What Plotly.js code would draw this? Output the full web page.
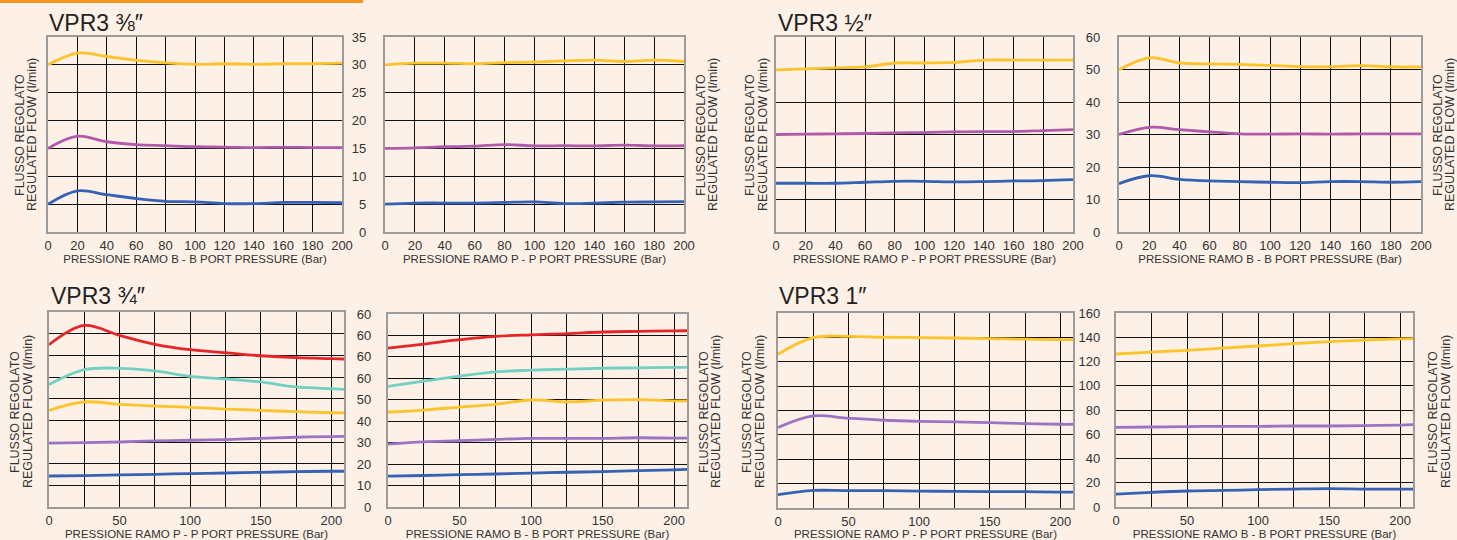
<!DOCTYPE html>
<html><head><meta charset="utf-8">
<script src="https://cdn.plot.ly/plotly-3.0.1.min.js"></script>
<style>html,body{margin:0;padding:0;background:#fdf0e6;}#chart{width:1457px;height:540px;}</style>
</head><body><div id="chart"></div>
<script>
// ---------- DATA ----------
const xTop = [0, 20, 40, 60, 80, 100, 120, 140, 160, 180, 200];
const xBottom = [0, 25, 50, 75, 100, 125, 150, 175, 200, 209];

const xTickTop = [0, 20, 40, 60, 80, 100, 120, 140, 160, 180, 200];
const xTickTopText = ['0','20','40','60','80','100','120','140','160','180','200'];
const xTickBottom = [0, 25, 50, 75, 100, 125, 150, 175, 200];
const xTickBottomText = ['0','','50','','100','','150','','200'];

const yTick38 = [0, 5, 10, 15, 20, 25, 30, 35];
const yTick38Text = ['0','5','10','15','20','25','30','35'];
const yTick12 = [0, 10, 20, 30, 40, 50, 60];
const yTick12Text = ['0','10','20','30','40','50','60'];
const yTick34 = [0, 10, 20, 30, 40, 50, 60, 70, 80, 90];
const yTick34Text = ['0','10','20','30','40','50','60','60','60','60'];
const yTick1 = [0, 20, 40, 60, 80, 100, 120, 140, 160];
const yTick1Text = ['0','20','40','60','80','100','120','140','160'];

// VPR3 3/8" - B port
const v38B_yellow = [30.0, 32.1, 31.5, 30.8, 30.35, 30.1, 30.2, 30.1, 30.2, 30.2, 30.3];
const v38B_purple = [15.0, 17.2, 16.2, 15.7, 15.5, 15.3, 15.25, 15.15, 15.2, 15.15, 15.15];
const v38B_blue   = [5.0, 7.4, 6.7, 6.0, 5.5, 5.4, 5.1, 5.1, 5.3, 5.3, 5.25];
// VPR3 3/8" - P port
const v38P_yellow = [30.0, 30.3, 30.3, 30.2, 30.4, 30.5, 30.7, 30.85, 30.6, 30.85, 30.6];
const v38P_purple = [15.0, 15.1, 15.3, 15.4, 15.7, 15.45, 15.5, 15.45, 15.6, 15.45, 15.5];
const v38P_blue   = [5.0, 5.2, 5.2, 5.2, 5.3, 5.4, 5.1, 5.2, 5.35, 5.4, 5.45];
// VPR3 1/2" - P port
const v12P_yellow = [49.9, 50.2, 50.5, 50.8, 52.0, 52.0, 52.2, 52.9, 52.9, 52.9, 52.9];
const v12P_purple = [30.0, 30.1, 30.2, 30.3, 30.5, 30.6, 30.8, 30.9, 30.9, 31.2, 31.5];
const v12P_blue   = [15.0, 15.0, 15.0, 15.3, 15.6, 15.6, 15.4, 15.5, 15.7, 15.8, 16.1];
// VPR3 1/2" - B port
const v12B_yellow = [49.9, 53.6, 52.0, 51.7, 51.6, 51.3, 50.9, 50.8, 51.2, 50.8, 50.8];
const v12B_purple = [30.0, 32.2, 31.5, 30.8, 30.2, 30.1, 30.2, 30.1, 30.2, 30.2, 30.2];
const v12B_blue   = [14.9, 17.3, 16.2, 15.7, 15.5, 15.3, 15.2, 15.5, 15.5, 15.3, 15.5];
// VPR3 3/4" - P port
const v34P_red    = [74.9, 83.8, 79.2, 75.1, 72.6, 71.2, 69.8, 68.9, 68.5, 68.3];
const v34P_teal   = [56.5, 63.4, 64.0, 62.8, 60.3, 59.1, 57.7, 55.4, 54.6, 54.3];
const v34P_yellow = [44.6, 48.5, 47.4, 46.6, 46.0, 45.2, 44.6, 44.0, 43.5, 43.4];
const v34P_purple = [29.5, 29.7, 30.0, 30.5, 30.8, 31.1, 31.7, 32.2, 32.5, 32.6];
const v34P_blue   = [14.3, 14.5, 14.8, 15.1, 15.4, 15.7, 16.0, 16.3, 16.5, 16.5];
// VPR3 3/4" - B port
const v34B_red    = [74.1, 76.0, 78.0, 79.6, 80.3, 80.8, 81.6, 81.9, 82.1, 82.2];
const v34B_teal   = [56.2, 58.7, 61.0, 63.0, 63.8, 64.3, 64.7, 64.9, 65.1, 65.1];
const v34B_yellow = [44.3, 45.2, 46.6, 47.9, 49.9, 49.0, 49.8, 50.1, 49.5, 49.5];
const v34B_purple = [29.3, 30.4, 30.9, 31.5, 32.0, 32.0, 32.0, 32.3, 32.1, 32.1];
const v34B_blue   = [14.4, 14.7, 15.1, 15.4, 15.8, 16.2, 16.5, 17.0, 17.3, 17.5];
// VPR3 1" - P port
const v1P_yellow = [126.2, 139.8, 140.9, 140.1, 139.8, 139.5, 139.0, 138.5, 138.2, 138.2];
const v1P_purple = [66.0, 75.5, 73.6, 72.0, 71.1, 70.6, 70.0, 69.2, 68.7, 68.7];
const v1P_blue   = [10.9, 14.4, 14.2, 14.2, 13.9, 13.6, 13.4, 13.4, 13.1, 13.1];
// VPR3 1" - B port
const v1B_yellow = [126.2, 127.8, 129.2, 131.1, 132.8, 134.7, 136.4, 137.7, 138.6, 138.8];
const v1B_purple = [65.7, 66.0, 66.3, 66.5, 66.5, 66.8, 66.8, 67.1, 67.6, 67.9];
const v1B_blue   = [10.7, 12.1, 13.2, 13.7, 14.3, 14.8, 15.1, 14.8, 14.8, 14.8];

const titles = ['VPR3 <span style="font-size:23px">⅜″</span>', 'VPR3 <span style="font-size:23px">½″</span>',
                'VPR3 <span style="font-size:23px">¾″</span>', 'VPR3 1″'];
const xTitleB = 'PRESSIONE RAMO B - B PORT PRESSURE (Bar)';
const xTitleP = 'PRESSIONE RAMO P - P PORT PRESSURE (Bar)';
const yTitle1 = 'FLUSSO REGOLATO';
const yTitle2 = 'REGULATED FLOW (l/min)';

// ---------- STYLE ----------
const C = {yellow:'#fcc42a', magenta:'#b05aaa', lavender:'#9c72c2', blue:'#3662b5', red:'#e4262b', teal:'#72d0c2'};
const W = 1457, H = 540;
const FONT = 'Liberation Sans, Arial, sans-serif';
const TXT = '#333333';

const panels = [
  {px:[48,342], py:[37,232], x:xTop, xr:[0,200], xt:xTickTop, xtt:xTickTopText, yr:[0,35], yt:yTick38, ytt:yTick38Text, labels:false, xtitle:xTitleB,
   series:[[v38B_yellow,C.yellow],[v38B_purple,C.magenta],[v38B_blue,C.blue]]},
  {px:[385,684], py:[37,232], x:xTop, xr:[0,200], xt:xTickTop, xtt:xTickTopText, yr:[0,35], yt:yTick38, ytt:yTick38Text, labels:true, stand:14, xtitle:xTitleP,
   series:[[v38P_yellow,C.yellow],[v38P_purple,C.magenta],[v38P_blue,C.blue]]},
  {px:[776,1073], py:[37,232], x:xTop, xr:[0,200], xt:xTickTop, xtt:xTickTopText, yr:[0,60], yt:yTick12, ytt:yTick12Text, labels:false, xtitle:xTitleP,
   series:[[v12P_yellow,C.yellow],[v12P_purple,C.magenta],[v12P_blue,C.blue]]},
  {px:[1119,1421], py:[37,232], x:xTop, xr:[0,200], xt:xTickTop, xtt:xTickTopText, yr:[0,60], yt:yTick12, ytt:yTick12Text, labels:true, stand:14, xtitle:xTitleB,
   series:[[v12B_yellow,C.yellow],[v12B_purple,C.magenta],[v12B_blue,C.blue]]},
  {px:[49,344], py:[312,507], x:xBottom, xr:[0,209], xt:xTickBottom, xtt:xTickBottomText, yr:[0,90], yt:yTick34, ytt:yTick34Text, labels:false, xtitle:xTitleP,
   series:[[v34P_red,C.red],[v34P_teal,C.teal],[v34P_yellow,C.yellow],[v34P_purple,C.lavender],[v34P_blue,C.blue]]},
  {px:[388,687], py:[314,507], x:xBottom, xr:[0,209], xt:xTickBottom, xtt:xTickBottomText, yr:[0,90], yt:yTick34, ytt:yTick34Text, labels:true, stand:12, xtitle:xTitleB,
   series:[[v34B_red,C.red],[v34B_teal,C.teal],[v34B_yellow,C.yellow],[v34B_purple,C.lavender],[v34B_blue,C.blue]]},
  {px:[778,1073], py:[313,508], x:xBottom, xr:[0,209], xt:xTickBottom, xtt:xTickBottomText, yr:[0,160], yt:yTick1, ytt:yTick1Text, labels:false, xtitle:xTitleP,
   series:[[v1P_yellow,C.yellow],[v1P_purple,C.lavender],[v1P_blue,C.blue]]},
  {px:[1116,1413], py:[313,507], x:xBottom, xr:[0,209], xt:xTickBottom, xtt:xTickBottomText, yr:[0,160], yt:yTick1, ytt:yTick1Text, labels:true, stand:11, xtitle:xTitleB,
   series:[[v1B_yellow,C.yellow],[v1B_purple,C.lavender],[v1B_blue,C.blue]]}
];

const traces = [];
const layout = {
  width: W, height: H,
  margin: {l:0, r:0, t:0, b:0},
  paper_bgcolor: '#fdf0e6', plot_bgcolor: '#fdf0e6',
  showlegend: false,
  font: {family: FONT, color: TXT, size: 13},
  annotations: [], shapes: []
};

panels.forEach((p, i) => {
  const n = i + 1;
  const xa = n === 1 ? 'xaxis' : 'xaxis' + n;
  const ya = n === 1 ? 'yaxis' : 'yaxis' + n;
  const xr = n === 1 ? 'x' : 'x' + n;
  const yr = n === 1 ? 'y' : 'y' + n;
  const axisCommon = {
    showgrid: true, gridcolor: '#111111', gridwidth: 1,
    showline: true, mirror: true, linecolor: '#9b9b9b', linewidth: 2.2,
    zeroline: false, ticks: '', fixedrange: true,
    tickfont: {family: FONT, size: 13, color: TXT}
  };
  layout[xa] = Object.assign({}, axisCommon, {
    domain: [p.px[0] / W, p.px[1] / W], anchor: yr, range: p.xr,
    tickmode: 'array', tickvals: p.xt, ticktext: p.xtt,
    title: {text: p.xtitle, standoff: 3, font: {family: FONT, size: 11.5, color: TXT}}
  });
  layout[ya] = Object.assign({}, axisCommon, {
    domain: [1 - p.py[1] / H, 1 - p.py[0] / H], anchor: xr, range: p.yr,
    tickmode: 'array', tickvals: p.yt, ticktext: p.ytt,
    showticklabels: p.labels, ticklabelstandoff: p.stand || 0
  });
  p.series.forEach(s => {
    traces.push({
      type: 'scatter', mode: 'lines', x: p.x, y: s[0], xaxis: xr, yaxis: yr,
      line: {color: s[1], width: 2.8, shape: 'spline', smoothing: 1},
      hoverinfo: 'skip'
    });
  });
});

// group titles
const titlePos = [[47, 23], [776, 23], [49, 296], [777, 296]];
titles.forEach((t, i) => {
  layout.annotations.push({
    xref: 'paper', yref: 'paper', x: titlePos[i][0] / W, y: 1 - titlePos[i][1] / H,
    xanchor: 'left', yanchor: 'middle', showarrow: false, text: t,
    font: {family: FONT, size: 23, color: '#222'}
  });
});

// y-axis titles (two lines each)
const yTitlePos = [
  [20, 32, 135], [701, 713, 135], [750, 763, 135], [1438, 1450, 135],
  [15, 28, 412], [704, 716, 412], [747, 760, 412], [1433, 1446, 412]
];
yTitlePos.forEach(p => {
  [[p[0], yTitle1], [p[1], yTitle2]].forEach(l => {
    layout.annotations.push({
      xref: 'paper', yref: 'paper', x: l[0] / W, y: 1 - p[2] / H,
      xanchor: 'center', yanchor: 'middle', showarrow: false, textangle: -90,
      text: l[1], font: {family: FONT, size: 12.5, color: TXT}
    });
  });
});

// orange header bar
layout.shapes.push({type: 'rect', xref: 'paper', yref: 'paper', x0: 0, x1: 363 / W, y0: 1 - 3 / H, y1: 1,
  fillcolor: '#f7941d', line: {width: 0}});

Plotly.newPlot('chart', traces, layout, {staticPlot: true, displayModeBar: false});
</script>
</body></html>
